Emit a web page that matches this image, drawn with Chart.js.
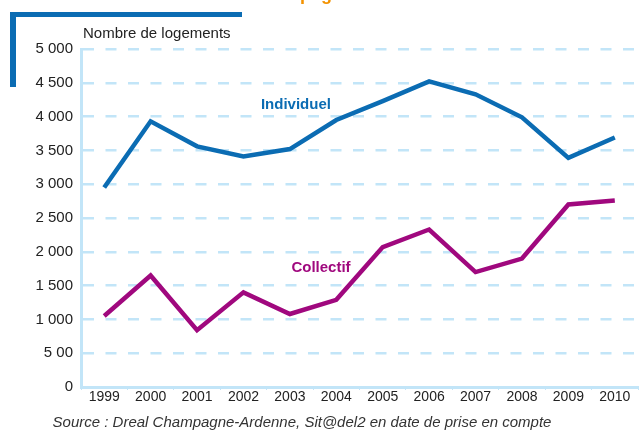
<!DOCTYPE html>
<html>
<head>
<meta charset="utf-8">
<script src="https://cdn.jsdelivr.net/npm/chart.js@4"></script>
<style>
  html, body { margin: 0; padding: 0; background: #fff; }
  #wrap { width: 644px; height: 435px; position: relative; }
</style>
</head>
<body>
<div id="wrap"><canvas id="logements"></canvas></div>
<script>
// years and housing starts
var years = ['1999','2000','2001','2002','2003','2004','2005','2006','2007','2008','2009','2010'];
var individuel = [2950, 3930, 3560, 3410, 3520, 3950, 4230, 4520, 4330, 3990, 3390, 3690];
var collectif = [1050, 1650, 840, 1400, 1080, 1290, 2070, 2330, 1700, 1900, 2700, 2760];
// y tick labels as printed (the "5 00" typo is in the original)
var yTickLabels = ['0', '5 00', '1 000', '1 500', '2 000', '2 500', '3 000', '3 500', '4 000', '4 500', '5 000'];

var blue = '#0b6cb3';
var magenta = '#a0087e';
var paleBlue = '#c2e5f8';

// frame, titles and in-chart series names
var decorPlugin = {
    id: 'decor',
    beforeDraw: function(chart) {
        var c = chart.ctx;
        c.save();
        c.fillStyle = blue;
        c.fillRect(10, 12, 232, 5);
        c.fillRect(10, 12, 6, 75);
        c.fillStyle = '#f39200';
        c.font = 'bold 18px "Liberation Sans", Arial, sans-serif';
        c.textBaseline = 'alphabetic';
        c.fillText('pag', 300, 0);
        c.restore();
    },
    afterDraw: function(chart) {
        var c = chart.ctx;
        var x = chart.scales.x, y = chart.scales.y;
        c.save();
        c.fillStyle = '#222';
        c.font = '15px "Liberation Sans", Arial, sans-serif';
        c.textBaseline = 'middle';
        c.textAlign = 'left';
        c.fillText('Nombre de logements', 83, 34);

        c.font = 'bold 15px "Liberation Sans", Arial, sans-serif';
        c.textAlign = 'center';
        c.fillStyle = blue;
        c.fillText('Individuel', x.getPixelForValue(4.13), y.getPixelForValue(4170));
        c.fillStyle = magenta;
        c.fillText('Collectif', x.getPixelForValue(4.67), y.getPixelForValue(1760));

        c.fillStyle = '#333';
        c.font = 'italic 15px "Liberation Sans", Arial, sans-serif';
        c.fillText('Source : Dreal Champagne-Ardenne, Sit@del2 en date de prise en compte', 302, 423);
        c.restore();
    }
};

var ctx = document.getElementById('logements').getContext('2d');
var chart = new Chart(ctx, {
    type: 'line',
    data: {
        labels: years,
        datasets: [{
            label: 'Individuel',
            data: individuel,
            borderColor: blue,
            borderWidth: 4.5,
            pointRadius: 0,
            tension: 0,
            borderJoinStyle: 'miter'
        }, {
            label: 'Collectif',
            data: collectif,
            borderColor: magenta,
            borderWidth: 4.5,
            pointRadius: 0,
            tension: 0,
            borderJoinStyle: 'miter'
        }]
    },
    options: {
        responsive: true,
        maintainAspectRatio: false,
        animation: false,
        layout: { padding: { top: 49, right: 6, left: 0, bottom: 0 } },
        plugins: {
            legend: { display: false },
            tooltip: { enabled: false }
        },
        scales: {
            x: {
                offset: true,
                afterFit: function(s) { s.height = 48; },
                grid: {
                    display: true,
                    drawOnChartArea: false,
                    offset: true,
                    tickLength: 3,
                    color: paleBlue,
                    lineWidth: 1
                },
                border: { color: paleBlue, width: 3 },
                ticks: {
                    color: '#222',
                    font: { family: '"Liberation Sans", Arial, sans-serif', size: 14 },
                    padding: -1,
                    maxRotation: 0,
                    autoSkip: false
                }
            },
            y: {
                min: 0,
                max: 5000,
                afterFit: function(s) { s.width = 81; },
                afterBuildTicks: function(s) {
                    s.ticks = yTickLabels.map(function(t, i) { return { value: i * 500 }; });
                },
                grid: {
                    color: paleBlue,
                    lineWidth: 2.5,
                    drawTicks: false
                },
                border: { color: paleBlue, width: 3, dash: [11, 11.5] },
                ticks: {
                    color: '#222',
                    font: { family: '"Liberation Sans", Arial, sans-serif', size: 15 },
                    padding: 8,
                    callback: function(v, i) { return yTickLabels[i]; }
                }
            }
        }
    },
    plugins: [decorPlugin]
});
</script>
</body>
</html>
